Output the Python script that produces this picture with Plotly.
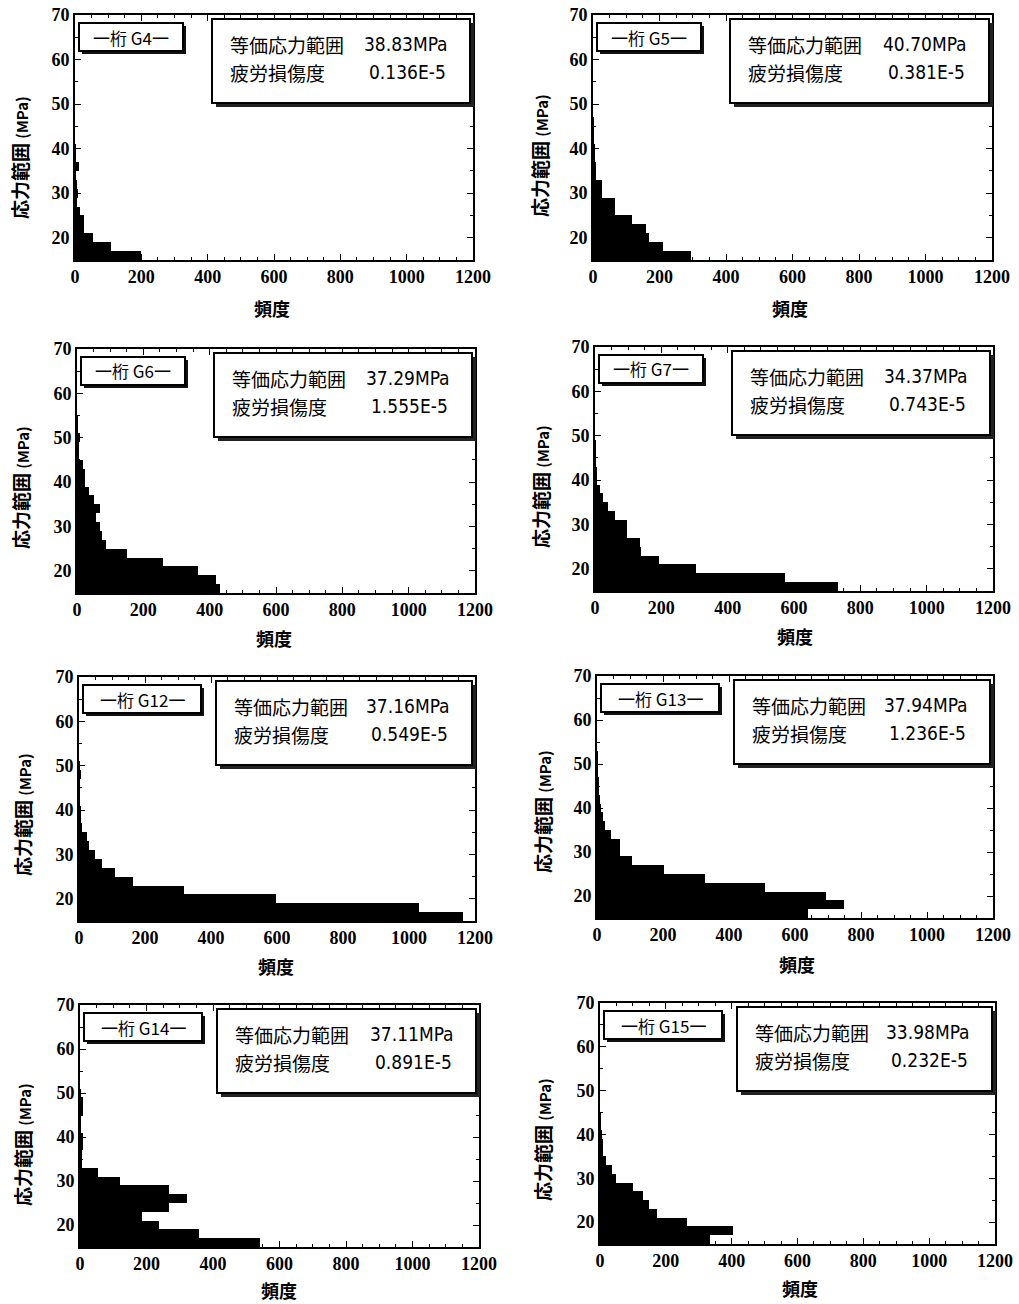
import plotly.graph_objects as go

# ---------------- data ----------------
stress_bins = [16, 18, 20, 22, 24, 26, 28, 30, 32, 34, 36, 38, 40, 42, 44, 46, 48, 50, 52, 54]
panel_names = ["G4", "G5", "G6", "G7", "G12", "G13", "G14", "G15"]
eq_stress = ["38.83MPa", "40.70MPa", "37.29MPa", "34.37MPa", "37.16MPa", "37.94MPa", "37.11MPa", "33.98MPa"]
damage = ["0.136E-5", "0.381E-5", "1.555E-5", "0.743E-5", "0.549E-5", "1.236E-5", "0.891E-5", "0.232E-5"]

freq_G4 = [200, 110, 55, 27, 27, 15, 5, 10, 5, 3, 12, 3, 2, 0, 0, 0, 0, 0, 0, 0]
freq_G5 = [295, 212, 168, 158, 118, 66, 66, 26, 26, 10, 8, 6, 4, 3, 2, 1, 0, 0, 0, 0]
freq_G6 = [431, 419, 365, 258, 150, 88, 74, 70, 58, 68, 50, 35, 25, 25, 18, 5, 4, 8, 3, 2]
freq_G7 = [733, 574, 304, 192, 140, 135, 97, 97, 59, 39, 24, 14, 6, 4, 3, 2, 1, 0, 0, 0]
freq_G12 = [1165, 1030, 597, 319, 163, 109, 71, 48, 30, 23, 8, 5, 4, 3, 2, 3, 4, 1, 0, 0]
freq_G13 = [639, 747, 693, 510, 326, 202, 106, 71, 71, 43, 23, 18, 11, 8, 5, 4, 3, 2, 1, 0]
freq_G14 = [540, 357, 237, 186, 267, 321, 267, 121, 53, 6, 5, 8, 10, 3, 3, 8, 8, 2, 0, 0]
freq_G15 = [334, 405, 263, 172, 150, 132, 101, 48, 35, 18, 10, 10, 5, 3, 2, 0, 0, 0, 0, 0]
freqs = [freq_G4, freq_G5, freq_G6, freq_G7, freq_G12, freq_G13, freq_G14, freq_G15]

x_ticks = [0, 200, 400, 600, 800, 1000, 1200]
y_ticks = [20, 30, 40, 50, 60, 70]
label_eq = "等価応力範囲"
label_dmg = "疲労損傷度"
x_title = "頻度"
y_title = "応力範囲 <span style='font-size:15px'>(MPa)</span>"

# ---------------- layout geometry (pixels) ----------------
W, H = 1019, 1304
panels = [  # left, right, top, bottom
    (75, 473, 15, 260),
    (593, 992, 15, 260),
    (77, 475, 349, 593),
    (595, 993, 347, 591),
    (79, 475, 677, 921),
    (597, 993, 676, 918),
    (80, 479, 1005, 1247),
    (600, 995, 1003, 1244),
]
xtitle_pos = [(272, 308), (790, 308), (274, 638), (795, 636), (276, 966), (797, 964), (279, 1290), (800, 1288)]
ytitle_pos = [(20, 158), (540, 156), (20, 488), (540, 487), (22, 815), (542, 812), (22, 1145), (542, 1140)]


def px(x):
    return x / W


def py(y):
    return 1 - y / H


CJK = "Noto Sans CJK JP"
NARROW = "Liberation Sans Narrow, DejaVu Sans Condensed, Liberation Sans, sans-serif"
SERIF = "Liberation Serif, DejaVu Serif, serif"

fig = go.Figure()
layout = dict(
    width=W, height=H, margin=dict(l=0, r=0, t=0, b=0, pad=0, autoexpand=False),
    paper_bgcolor="white", plot_bgcolor="white", showlegend=False,
    bargap=0, font=dict(family=SERIF, color="black"),
)
shapes = []
annotations = []

for i, (L, R, T, B) in enumerate(panels):
    sfx = "" if i == 0 else str(i + 1)
    xa, ya = "x" + sfx, "y" + sfx
    fig.add_trace(go.Bar(
        x=freqs[i], y=stress_bins, orientation="h", width=2,
        marker=dict(color="black", line=dict(width=0)),
        xaxis=xa, yaxis=ya, hoverinfo="x+y",
    ))
    layout["xaxis" + sfx] = dict(
        domain=[px(L), px(R)], anchor=ya, range=[0, 1200], automargin=False,
        tickvals=x_ticks, ticktext=[str(v) for v in x_ticks],
        ticks="inside", ticklen=6, tickwidth=1, tickcolor="black",
        minor=dict(dtick=50, ticks="inside", ticklen=3, tickcolor="black"),
        showline=True, linecolor="black", linewidth=1.6, mirror="allticks",
        showgrid=False, zeroline=False,
        tickfont=dict(family=SERIF, size=18, color="black", weight="bold"),
        fixedrange=True,
    )
    layout["yaxis" + sfx] = dict(
        domain=[py(B), py(T)], anchor=xa, range=[15, 70], automargin=False,
        tickvals=y_ticks, ticktext=[str(v) for v in y_ticks],
        ticks="inside", ticklen=6, tickwidth=1, tickcolor="black",
        minor=dict(dtick=5, ticks="inside", ticklen=3, tickcolor="black"),
        showline=True, linecolor="black", linewidth=1.6, mirror="allticks",
        showgrid=False, zeroline=False,
        tickfont=dict(family=SERIF, size=18, color="black", weight="bold"),
        fixedrange=True,
    )

    # label box "一桁 Gx一"
    lw = 104 if len(panel_names[i]) == 2 else 118
    lx0, lx1, ly0, ly1 = L + 4, L + 4 + lw, T + 8, T + 36
    shapes.append(dict(type="rect", xref="paper", yref="paper",
                       x0=px(lx0 + 3), x1=px(lx1 + 3), y0=py(ly1 + 3), y1=py(ly0 + 3),
                       fillcolor="#111", line=dict(width=0), layer="above"))
    shapes.append(dict(type="rect", xref="paper", yref="paper",
                       x0=px(lx0), x1=px(lx1), y0=py(ly1), y1=py(ly0),
                       fillcolor="white", line=dict(color="black", width=2), layer="above"))
    annotations.append(dict(xref="paper", yref="paper", x=px((lx0 + lx1) / 2), y=py((ly0 + ly1) / 2),
                            text="一桁 " + panel_names[i] + "一", showarrow=False,
                            xanchor="center", yanchor="middle",
                            font=dict(family=CJK, size=17, color="black")))

    # info box
    bx0, bx1, by0, by1 = L + 137, R - 3, T + 4, T + 88
    shapes.append(dict(type="rect", xref="paper", yref="paper",
                       x0=px(bx0 + 4), x1=px(bx1 + 4), y0=py(by1 + 4), y1=py(by0 + 4),
                       fillcolor="#222", line=dict(width=0), layer="above"))
    shapes.append(dict(type="rect", xref="paper", yref="paper",
                       x0=px(bx0), x1=px(bx1), y0=py(by1), y1=py(by0),
                       fillcolor="white", line=dict(color="black", width=2), layer="above"))
    annotations.append(dict(xref="paper", yref="paper", x=px(bx0 + 16), y=py(by0 + 25),
                            text=label_eq, showarrow=False, xanchor="left", yanchor="middle",
                            font=dict(family=CJK, size=19, color="black")))
    annotations.append(dict(xref="paper", yref="paper", x=px(bx1 - 20), y=py(by0 + 25),
                            text=eq_stress[i], showarrow=False, xanchor="right", yanchor="middle",
                            font=dict(family=NARROW, size=19, color="black")))
    annotations.append(dict(xref="paper", yref="paper", x=px(bx0 + 16), y=py(by0 + 53),
                            text=label_dmg, showarrow=False, xanchor="left", yanchor="middle",
                            font=dict(family=CJK, size=19, color="black")))
    annotations.append(dict(xref="paper", yref="paper", x=px(bx1 - 22), y=py(by0 + 53),
                            text=damage[i], showarrow=False, xanchor="right", yanchor="middle",
                            font=dict(family=NARROW, size=19, color="black")))

    # axis titles
    tx, ty = xtitle_pos[i]
    annotations.append(dict(xref="paper", yref="paper", x=px(tx), y=py(ty), text=x_title,
                            showarrow=False, xanchor="center", yanchor="middle",
                            font=dict(family=CJK, size=18, color="black", weight="bold")))
    yx, yy = ytitle_pos[i]
    annotations.append(dict(xref="paper", yref="paper", x=px(yx), y=py(yy), text=y_title,
                            showarrow=False, xanchor="center", yanchor="middle", textangle=-90,
                            font=dict(family=CJK, size=19, color="black", weight="bold")))

layout["shapes"] = shapes
layout["annotations"] = annotations
fig.update_layout(**layout)
fig.write_html("out.html")
